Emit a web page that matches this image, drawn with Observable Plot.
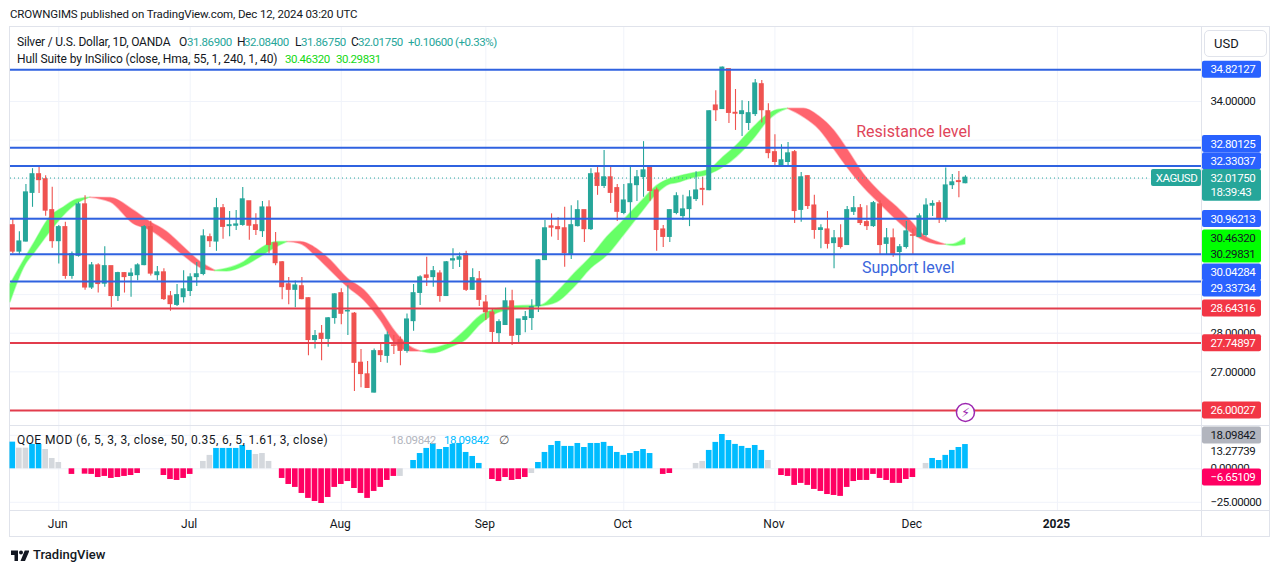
<!DOCTYPE html>
<html>
<head>
<meta charset="utf-8">
<script src="https://cdn.jsdelivr.net/npm/d3@7"></script>
<script src="https://cdn.jsdelivr.net/npm/@observablehq/plot@0.6"></script>
<style>
html,body{margin:0;padding:0;background:#fff;overflow:hidden;}
#page{position:relative;width:1281px;height:573px;font-family:Roboto,sans-serif;font-size:12px;color:#131722;}
#page svg{position:absolute;left:0;background:transparent;}
.t{position:absolute;white-space:nowrap;line-height:16px;}
.frame{position:absolute;border:0 solid #e0e3eb;box-sizing:border-box;}
</style>
</head>
<body>
<div id="page"></div>
<script>
// Daily candles, May 23 – Dec 12 2024 (one entry per trading day)
const barOpen = [30.79,30.10,30.36,31.62,32.11,31.98,31.18,30.37,30.74,29.47,
29.99,31.33,29.17,29.75,29.27,29.73,28.95,29.55,29.47,29.49,
29.75,30.74,29.49,29.57,28.95,28.72,28.92,29.08,29.44,29.52,
30.48,30.36,31.23,30.76,30.77,30.79,31.41,30.79,30.63,31.25,
30.32,29.83,29.26,29.11,29.21,28.90,27.81,27.98,27.84,28.38,
29.03,28.55,28.50,27.23,26.93,26.45,27.53,27.40,27.68,27.81,
27.53,28.30,29.03,29.49,29.44,29.54,28.95,29.87,29.89,30.04,
29.11,29.39,28.79,28.53,27.99,28.20,28.82,27.94,28.33,28.38,
28.69,29.88,30.76,30.74,30.71,30.04,30.76,31.18,30.68,32.13,
31.80,32.03,31.75,31.10,31.38,31.82,32.03,32.29,31.69,30.68,
30.48,31.10,31.02,31.20,31.46,31.73,31.69,33.89,33.79,34.83,
33.70,33.66,33.43,33.66,34.44,33.74,32.68,32.29,32.42,32.68,
31.18,32.06,31.30,30.66,30.68,30.32,30.45,30.27,31.13,31.23,
30.87,30.76,31.33,30.30,30.45,30.09,30.22,30.53,30.48,30.53,
31.29,31.36,30.94,31.82,31.93,31.87];
const barHigh = [30.96,30.63,31.85,32.26,32.32,32.08,31.78,30.79,30.87,30.10,
31.39,31.56,29.83,29.80,30.24,29.73,29.58,29.57,29.67,29.80,
30.79,30.90,29.73,29.67,29.08,29.26,29.62,29.54,29.83,30.68,
30.57,31.49,31.33,31.15,31.18,31.77,31.41,31.09,31.41,31.43,
30.61,29.86,29.44,29.35,29.44,28.92,28.07,28.20,28.41,29.02,
29.15,29.23,28.54,27.58,27.27,27.59,27.73,28.03,27.94,27.90,
28.50,29.26,29.49,29.97,29.73,29.62,29.86,30.19,30.08,30.12,
29.67,29.60,28.98,28.63,28.35,29.17,29.11,28.35,28.56,28.87,
29.91,30.92,31.09,30.99,31.26,31.30,31.43,31.18,32.26,32.29,
32.73,32.32,31.85,31.85,32.32,32.21,32.96,32.32,31.76,30.79,
31.19,31.64,31.57,31.69,32.18,32.04,33.76,34.28,34.89,34.83,
34.31,34.02,34.00,34.57,34.54,33.94,33.14,32.88,32.94,32.73,
32.16,32.08,31.57,30.81,31.15,30.66,30.81,31.28,31.54,31.33,
31.30,31.41,31.43,30.71,30.70,30.30,30.89,30.70,31.09,31.48,
31.43,31.43,32.28,32.11,32.19,32.08];
const barLow = [30.06,30.04,30.36,31.26,31.62,31.03,30.20,29.79,29.40,29.40,
29.97,29.11,29.13,29.04,29.19,28.66,28.82,29.04,28.93,29.36,
29.75,29.48,29.36,28.85,28.57,28.69,28.78,28.95,29.21,29.49,
30.22,30.12,30.43,30.50,30.66,30.77,30.41,30.53,30.48,30.06,
29.75,28.87,28.74,28.66,28.87,27.42,27.59,27.29,27.64,28.23,
28.22,27.94,26.49,26.59,26.57,26.45,27.24,27.22,27.45,27.16,
27.48,28.05,28.72,29.21,29.19,28.80,28.95,29.65,29.70,29.08,
29.11,28.69,28.33,27.75,27.75,28.20,27.68,27.73,28.01,28.07,
28.54,29.88,30.49,30.40,29.71,29.91,30.75,30.35,30.66,31.57,
31.75,31.36,30.89,31.07,30.96,31.41,31.52,31.42,30.12,30.22,
30.35,31.07,30.92,30.76,31.41,31.30,31.69,33.48,33.79,33.43,
33.25,33.09,33.25,33.61,33.44,32.52,32.32,32.29,32.30,30.84,
30.87,31.20,30.43,30.19,30.18,29.67,30.18,30.27,31.05,30.79,
30.66,30.74,30.04,30.01,29.97,29.62,30.18,30.04,30.48,30.49,
31.02,30.84,30.87,31.72,31.51,31.87];
const barClose = [30.10,30.37,31.64,32.11,31.95,31.16,30.37,30.74,29.47,30.04,
31.33,29.17,29.75,29.26,29.73,28.95,29.55,29.44,29.54,29.75,
30.74,29.53,29.57,28.87,28.74,28.98,29.13,29.44,29.52,30.50,
30.37,31.23,30.74,30.79,30.81,31.46,30.77,30.66,31.25,30.27,
29.80,29.18,29.11,29.23,28.87,27.81,27.92,27.84,28.38,29.00,
28.49,28.57,27.22,26.93,26.57,27.53,27.42,27.94,27.66,27.53,
28.35,29.03,29.44,29.42,29.60,28.95,29.83,29.91,29.96,29.11,
29.42,28.85,28.53,28.02,28.28,28.82,27.92,28.35,28.41,28.67,
29.88,30.71,30.72,30.68,30.06,30.79,31.18,30.68,32.11,31.80,
32.03,31.62,31.13,31.43,31.85,32.03,32.21,31.67,30.66,30.48,
31.18,31.54,31.20,31.51,31.69,31.70,33.74,33.76,34.87,33.69,
33.67,33.74,33.69,34.46,33.76,32.65,32.42,32.47,32.65,31.15,
32.03,31.28,30.66,30.71,30.30,30.45,30.22,31.18,31.23,30.84,
30.76,31.36,30.27,30.45,30.04,30.22,30.63,30.51,31.02,31.30,
31.34,30.97,31.82,31.90,31.90,32.02];

// Hull Suite band, read at knots; each run is one trend
const hullRunTrend = ["up","down","up","down","up","down","up"];
const hullRunLength = [7,8,6,10,25,12,3];
const hullBar = [-0.35,2,3.2,5.7,7.8,9.8,11.8,
 11.8,14.9,18.4,21,23.5,26,28.6,30.8,
 30.8,32.6,35.2,37.7,40.2,41.8,
 41.8,43.8,46.3,48.4,51,53.5,56,58.5,60.6,62.1,
 62.1,64,66.8,68.9,71.3,73.8,76.8,80.4,82.9,85.5,88,90.5,93,95.6,98.1,100,101,103.6,106,108.2,110.2,112.8,114.8,116.3,118,
 118,120.4,122.9,125,127,129.5,132,134.6,136.6,138.7,140.7,142,
 142,143.2,145];
const hullUpper = [29.26,29.97,30.31,31.00,31.26,31.46,31.51,
 31.51,31.50,31.18,30.87,30.62,30.23,29.84,29.62,
 29.62,29.67,29.84,30.18,30.36,30.36,
 30.36,30.36,30.18,29.88,29.41,29.11,28.59,27.98,27.64,27.53,
 27.53,27.60,27.77,28.07,28.46,28.63,28.70,28.72,29.06,29.54,29.97,30.49,30.92,31.39,31.82,31.99,32.04,32.14,32.23,32.56,32.86,33.33,33.64,33.77,33.81,
 33.81,33.81,33.59,33.25,32.77,32.12,31.65,31.26,30.92,30.53,30.36,30.29,
 30.29,30.30,30.46];
const hullLower = [28.80,29.78,30.05,30.62,31.05,31.35,31.51,
 31.51,31.39,30.83,30.66,30.36,30.01,29.69,29.61,
 29.61,29.60,29.73,29.97,30.23,30.36,
 30.36,30.31,29.97,29.62,29.19,28.85,28.33,27.68,27.53,27.53,
 27.53,27.48,27.64,27.81,28.24,28.52,28.63,28.69,28.80,29.19,29.67,30.01,30.53,31.09,31.61,31.85,31.88,32.02,32.11,32.30,32.56,33.03,33.46,33.68,33.81,
 33.81,33.59,33.25,32.77,32.30,31.78,31.35,30.92,30.62,30.40,30.30,30.29,
 30.29,30.26,30.30];

// QOE MOD histogram, one value per trading day (null = no visible column)
const qoeValues = [19.9,15.4,15.4,18.2,18.2,14.4,7.7,4.7,null,-4.2,
null,-4,-4.2,-6.5,-5.7,-7.2,-6.5,-5.7,-5,-3.5,
null,null,null,-5,-8,-8.7,-7.2,-4.2,null,5.5,
10,15.2,15.2,15.2,15.2,17.4,13.7,10.7,11.4,5.5,
null,-7.2,-11.7,-13.9,-18.4,-22.1,-24.4,-25.9,-21.4,-13.9,
-11.7,-9.5,-14.7,-18.4,-22.1,-16.9,-13.9,-8.7,-5.7,-5.7,
null,6.2,11.4,15.2,18.9,14.4,15.9,18.2,18.9,12.2,
9.2,4,null,-8,-9.5,-6.5,-8.7,-8,-6.5,-3.5,
4.7,12.2,17.4,20.4,16.7,16.7,18.9,15.9,18.9,18.9,
19.7,16.7,12.2,10,11.4,12.9,14.4,11.4,null,-4.2,
-3.5,null,null,null,4,5.5,13.7,19.7,25.6,21.1,
18.2,16.7,15.2,17.4,13.7,6.2,null,-5,-5.7,-12.4,
-10.9,-12.4,-15.4,-16.9,-19.2,-19.9,-20.6,-13.9,-9.5,-8.7,
-8.7,-4.2,-7.2,-8.7,-10.9,-10.9,-8,-6.5,null,4,
7.7,6.2,10,13.7,15.9,18.1];
const qoeNeutralBars = [1,2,5,6,7,29,30,37,38,39,59,79,104,105,115,139];

// Horizontal levels
const resistanceSupportLevels = [34.82127,32.80125,32.33037,30.96213,30.04284,29.33734];
const lowerLevels = [28.64316,27.74897,26.00027];
const lastPrice = 32.0175;

// Axes
const monthBars = [7,27,50,72,93,116,137];
const monthLabels = ["Jun","Jul","Aug","Sep","Oct","Nov","Dec"];
const yearBars = [159];
const yearLabels = ["2025"];
const priceGridLevels = [27,28,29,30,31,32,33,34];
const priceTicks = [34,28,27];
const qoeGridLevels = [25,0,-25];
const qoeTicks = [13.27739,0,-25];

// Price-scale tags: text, and the price at which the tag sits once stacked
const blueTagText = ["34.82127","32.80125","32.33037","30.96213","30.04284","29.33734"];
const blueTagAt = [34.82,32.90,32.45,30.96,29.57,29.16];
const redTagText = ["28.64316","27.74897","26.00027"];
const redTagAt = [28.64,27.74,26.00];
const limeTagText = ["30.46320","30.29831"];
const limeTagAt = [30.45,30.04];
const lastTagText = ["32.01750","18:39:43"];
const lastTagAt = [32.02,31.64];

// Presentation
const UP="#26a69a",DOWN="#ef5350",HULLUP="#66ff66",HULLDOWN="#ff646e";
const BLUE="#2f62e0",RED="#e23c4c",TAGBLUE="#2962ff",TAGRED="#f23645",LIME="#00ff00";
const GRID="#f0f3fa",INK="#131722";
const FONT="Roboto, sans-serif";
const TAGSIZE=11.5;
const barPx=6.57, firstPx=12.3;
const bar=px=>(px-firstPx)/barPx;
const xScale={domain:[bar(0),bar(1281)],range:[0,1281],axis:null};
const paneL=bar(10),paneR=bar(1201),tagL=bar(1202),tagR=bar(1261),tagText=bar(1210);
const mainPx=26+383/38.63, mainBottom=26-15/38.63;
const priceHalf=8.5/38.63;

const bars=barOpen.map((o,i)=>({i,o,h:barHigh[i],l:barLow[i],c:barClose[i],col:barClose[i]>=o?UP:DOWN}));
const hull=[];{let k=0;hullRunLength.forEach((n,s)=>{for(let j=0;j<n;j++,k++)hull.push({i:hullBar[k],u:hullUpper[k],d:hullLower[k],s,col:hullRunTrend[s]==="up"?HULLUP:HULLDOWN});});}
const qoe=qoeValues.map((v,i)=>({i,v,col:qoeNeutralBars.includes(i)?"#d4d8dd":v>0?"#00bcff":"#ff0062"})).filter(d=>d.v!==null);

const tagMarks=(text,at,fill,color,block)=>[
  Plot.rect(block,{x1:tagL,x2:tagR,y1:d=>d[0],y2:d=>d[1],fill,rx:2}),
  Plot.text(text,{x:tagText,y:(d,i)=>at[i],text:d=>d,fill:color,textAnchor:"start",fontSize:TAGSIZE,fontFamily:FONT})
];

const main=Plot.plot({
  width:1281,height:398,margin:0,
  style:{background:"transparent",overflow:"visible"},
  x:xScale,
  y:{domain:[mainBottom,mainPx],range:[398,0],axis:null},
  color:{type:"identity"},
  marks:[
    Plot.ruleX(monthBars.concat(yearBars),{stroke:GRID,strokeWidth:1,y1:mainBottom,y2:mainPx}),
    Plot.ruleY(priceGridLevels,{x1:paneL,x2:paneR,stroke:GRID,strokeWidth:1}),
    Plot.area(hull,{x1:"i",y1:"u",y2:"d",z:"s",fill:"col",stroke:"col",strokeWidth:1.5,strokeOpacity:0.45,curve:"monotone-x"}),
    Plot.ruleX(bars,{x:"i",y1:"l",y2:"h",stroke:"col",strokeWidth:1.1}),
    Plot.rect(bars,{x1:d=>d.i-0.38,x2:d=>d.i+0.38,y1:d=>Math.min(d.o,d.c),y2:d=>Math.max(d.o,d.c)+0.02,fill:"col"}),
    Plot.ruleY([lastPrice],{x1:paneL,x2:bar(1150),stroke:UP,strokeWidth:1,strokeDasharray:"1,3"}),
    Plot.ruleY(resistanceSupportLevels,{x1:paneL,x2:paneR,stroke:BLUE,strokeWidth:2}),
    Plot.ruleY(lowerLevels,{x1:paneL,x2:paneR,stroke:RED,strokeWidth:2}),
    Plot.text(["Resistance level"],{x:137.1,y:33.22,text:d=>d,fill:"#e0455a",fontSize:16,fontFamily:FONT}),
    Plot.text(["Support level"],{x:136.3,y:29.70,text:d=>d,fill:"#3a66dc",fontSize:16,fontFamily:FONT}),
    Plot.dot([[145,25.95]],{x:d=>d[0],y:d=>d[1],r:9,fill:"#fff",stroke:"#9c27b0",strokeWidth:1.5}),
    Plot.text(["\u26A1"],{x:145,y:25.95,text:d=>d,fill:"#9c27b0",fontSize:13,fontFamily:"DejaVu Sans"}),
    Plot.text(priceTicks,{x:tagText,y:d=>d,text:d=>d.toFixed(5),fill:INK,textAnchor:"start",fontSize:TAGSIZE,fontFamily:FONT}),
    ...tagMarks(blueTagText,blueTagAt,TAGBLUE,"#fff",blueTagAt.map(c=>[c-priceHalf,c+priceHalf])),
    ...tagMarks(redTagText,redTagAt,TAGRED,"#fff",redTagAt.map(c=>[c-priceHalf,c+priceHalf])),
    ...tagMarks(limeTagText,limeTagAt,LIME,INK,[[limeTagAt[1]-priceHalf,limeTagAt[0]+priceHalf]]),
    Plot.rect([[0]],{x1:bar(1151),x2:bar(1201),y1:lastPrice-priceHalf,y2:lastPrice+priceHalf,fill:UP,rx:2}),
    Plot.text(["XAGUSD"],{x:bar(1176),y:lastPrice,text:d=>d,fill:"#fff",fontSize:TAGSIZE,fontFamily:FONT}),
    ...tagMarks(lastTagText,lastTagAt,UP,"#fff",[[lastTagAt[1]-priceHalf,lastTagAt[0]+priceHalf]])
  ]
});
main.style.top="27px";

const qPx=1.34,qTop=43.3/qPx,qBottom=-(85-43.3)/qPx,qHalf=8.5/qPx;
const lower=Plot.plot({
  width:1281,height:112,margin:0,marginBottom:27,
  style:{background:"transparent",overflow:"visible"},
  x:xScale,
  y:{domain:[qBottom,qTop],range:[85,0],axis:null},
  color:{type:"identity"},
  marks:[
    Plot.ruleX(monthBars.concat(yearBars),{stroke:GRID,strokeWidth:1,y1:qBottom,y2:qTop}),
    Plot.ruleY(qoeGridLevels,{x1:paneL,x2:paneR,stroke:GRID,strokeWidth:1}),
    Plot.rect(qoe,{x1:d=>d.i-0.43,x2:d=>d.i+0.43,y1:0,y2:"v",fill:"col"}),
    Plot.text(qoeTicks,{x:tagText,y:d=>d,text:d=>d.toFixed(5).replace("-","\u2212"),fill:INK,textAnchor:"start",fontSize:TAGSIZE,fontFamily:FONT}),
    Plot.rect([[0]],{x1:tagL,x2:tagR,y1:24.85-qHalf,y2:24.85+qHalf,fill:"#b2b5be",rx:2}),
    Plot.text(["18.09842"],{x:tagText,y:24.85,text:d=>d,fill:INK,textAnchor:"start",fontSize:TAGSIZE,fontFamily:FONT}),
    Plot.rect([[0]],{x1:tagL,x2:tagR,y1:-6.4-qHalf,y2:-6.4+qHalf,fill:"#ff0062",rx:2}),
    Plot.text(["\u22126.65109"],{x:tagText,y:-6.4,text:d=>d,fill:"#fff",textAnchor:"start",fontSize:TAGSIZE,fontFamily:FONT}),
    Plot.text(monthBars,{x:d=>d,frameAnchor:"bottom",dx:-1,dy:17,text:(d,i)=>monthLabels[i],fill:INK,fontSize:12,fontFamily:FONT}),
    Plot.text(yearBars,{x:d=>d,frameAnchor:"bottom",dx:-1,dy:17,text:(d,i)=>yearLabels[i],fill:INK,fontSize:12,fontWeight:700,fontFamily:FONT})
  ]
});
lower.style.top="425px";
[main,lower].forEach(s=>s.querySelectorAll(`g[font-size="${TAGSIZE}"]`).forEach(g=>{g.style.letterSpacing="-0.45px";}));

const page=document.getElementById("page");
const frame=(l,t,w,h,css)=>{const e=document.createElement("div");e.className="frame";e.style.cssText=`left:${l}px;top:${t}px;width:${w}px;height:${h}px;${css}`;page.append(e);return e;};
frame(9,26,1261,511,"border-width:1px;");
page.append(main,lower);
frame(1201,27,1,510,"border-left-width:1px;");
frame(10,425,1260,1,"border-top-width:1px;");
frame(10,510,1260,1,"border-top-width:1px;");
frame(1204,30,63,27,"border-width:1px;border-radius:5px;background:#fff;");

const text=(s,l,y,color,extra)=>{const e=document.createElement("div");e.className="t";e.textContent=s;e.style.cssText=`left:${l}px;top:${y-8}px;color:${color||INK};${extra||""}`;page.append(e);return e;};
const NUM="font-size:11.5px;letter-spacing:-0.45px;";
text("CROWNGIMS published on TradingView.com, Dec 12, 2024 03:20 UTC",10,14,INK,"font-size:11.5px;letter-spacing:-0.13px;");
text("USD",1214,44,INK,"font-size:13px;");
text("Silver / U.S. Dollar, 1D, OANDA",17,42,INK,"letter-spacing:-0.2px;");
[["O",179],["H",237],["L",295],["C",351]].forEach(d=>text(d[0],d[1],42));
[["31.86900",187],["32.08400",244],["31.86750",301],["32.01750",358],["+0.10600",408],["(+0.33%)",455]].forEach(d=>text(d[0],d[1],42,UP,NUM));
text("Hull Suite by InSilico (close, Hma, 55, 1, 240, 1, 40)",17,59,INK,"letter-spacing:-0.11px;");
text("30.46320",285,59,"#14d814",NUM);
text("30.29831",336,59,"#14d814",NUM);
text("QOE MOD (6, 5, 3, 3, close, 50, 0.35, 6, 5, 1.61, 3, close)",17,440,INK,"letter-spacing:0.4px;");
text("18.09842",391,440,"#b2b5be",NUM);
text("18.09842",444,440,"#00bcff",NUM);
text("\u2205",499,440,"#555");
const logo=document.createElementNS("http://www.w3.org/2000/svg","svg");
logo.setAttribute("width","18");logo.setAttribute("height","12");logo.setAttribute("viewBox","0 0 36 24");
logo.style.left="11px";logo.style.top="549px";
logo.innerHTML='<path fill="#131722" d="M14 24H7V12H0V3h14zM28 24H19L27.5 3H37z"/><circle cx="20" cy="7" r="4" fill="#131722"/>';
page.append(logo);
text("TradingView",33,555,"#131722","font-size:13px;font-weight:500;");
</script>
</body>
</html>
